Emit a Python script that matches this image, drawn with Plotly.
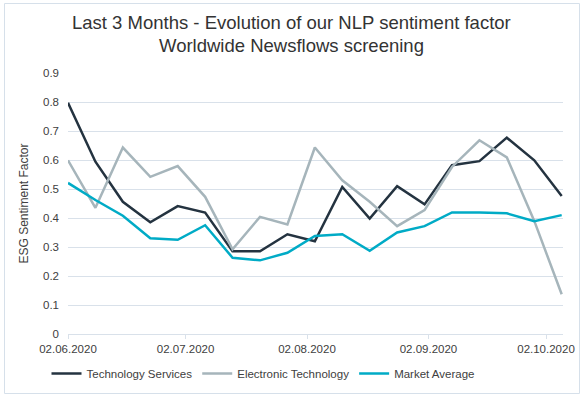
import plotly.graph_objects as go

dates = ["2020-06-02", "2020-06-09", "2020-06-16", "2020-06-23", "2020-06-30",
         "2020-07-07", "2020-07-14", "2020-07-21", "2020-07-28", "2020-08-04",
         "2020-08-11", "2020-08-18", "2020-08-25", "2020-09-01", "2020-09-08",
         "2020-09-15", "2020-09-22", "2020-09-29", "2020-10-06"]

tech_services = [0.797, 0.594, 0.456, 0.385, 0.441, 0.419, 0.285, 0.285, 0.344, 0.320,
                 0.507, 0.398, 0.510, 0.447, 0.582, 0.596, 0.677, 0.599, 0.476]
electronic_tech = [0.599, 0.435, 0.643, 0.542, 0.579, 0.473, 0.292, 0.404, 0.378, 0.643,
                   0.530, 0.456, 0.372, 0.427, 0.576, 0.668, 0.609, 0.390, 0.137]
market_avg = [0.521, 0.462, 0.408, 0.330, 0.325, 0.375, 0.263, 0.254, 0.280, 0.338,
              0.344, 0.287, 0.350, 0.372, 0.419, 0.419, 0.416, 0.389, 0.410]

tick_dates = ["2020-06-02", "2020-07-02", "2020-08-02", "2020-09-02", "2020-10-02"]
tick_labels = ["02.06.2020", "02.07.2020", "02.08.2020", "02.09.2020", "02.10.2020"]

title_lines = ["Last 3 Months - Evolution of our NLP sentiment factor",
               "Worldwide Newsflows screening"]

series = [
    ("Technology Services", tech_services, "#243340"),
    ("Electronic Technology", electronic_tech, "#a6b5bb"),
    ("Market Average", market_avg, "#00abc6"),
]

fig = go.Figure()
for name, vals, col in series:
    fig.add_trace(go.Scatter(x=dates, y=vals, name=name, mode="lines",
                             line=dict(color=col, width=2.5)))

W, H = 584, 397
ml, mr, mt, mb = 68, 21, 73, 63
pw, ph = W - ml - mr, H - mt - mb

def py(pix):
    # pixel y from top -> paper y
    return (H - mb - pix) / ph

def px(pix):
    return (pix - ml) / pw

fig.update_layout(
    width=W, height=H,
    margin=dict(l=ml, r=mr, t=mt, b=mb),
    paper_bgcolor="white", plot_bgcolor="white",
    font=dict(family="Liberation Sans, Arial, sans-serif", size=11, color="#404040"),
    showlegend=True,
    legend=dict(orientation="h", xref="container", yref="container",
                x=263 / W, xanchor="center", y=1 - 359 / H, yanchor="top",
                font=dict(size=11.5, color="#404040"), itemwidth=30,
                traceorder="normal", bgcolor="rgba(0,0,0,0)"),
    xaxis=dict(type="date", range=["2020-06-02", "2020-10-06 08:00"],
               tickvals=tick_dates, ticktext=tick_labels, automargin=False,
               showgrid=False, showline=True, linecolor="#d9e1ea", linewidth=1,
               ticks="outside", ticklen=4, tickcolor="#d9e1ea",
               tickfont=dict(size=11.5, color="#404040"), zeroline=False),
    yaxis=dict(range=[0, 0.9], dtick=0.1, tickformat="~g", automargin=False,
               showgrid=True, gridcolor="#d9e1ea", gridwidth=1, zeroline=False,
               ticks="", ticklabelstandoff=8,
               title=dict(text="ESG Sentiment Factor", font=dict(size=12, color="#404040"), standoff=11),
               tickfont=dict(size=11.5, color="#404040")),
    annotations=[
        dict(text=title_lines[0], xref="paper", yref="paper", x=px(291), y=py(23),
             xanchor="center", yanchor="middle", showarrow=False,
             font=dict(size=18.5, color="#333333")),
        dict(text=title_lines[1], xref="paper", yref="paper", x=px(291), y=py(45),
             xanchor="center", yanchor="middle", showarrow=False,
             font=dict(size=18.5, color="#333333")),
    ],
    shapes=[dict(type="rect", xref="paper", yref="paper",
                 x0=px(4.5), x1=px(579.5), y0=py(393.5), y1=py(3.5),
                 line=dict(color="#d6e0ea", width=1), fillcolor="rgba(0,0,0,0)", layer="below")],
)

fig.write_html("out.html", config={"displayModeBar": False},
               post_script="document.body.style.margin='0';document.body.style.overflow='hidden';")
